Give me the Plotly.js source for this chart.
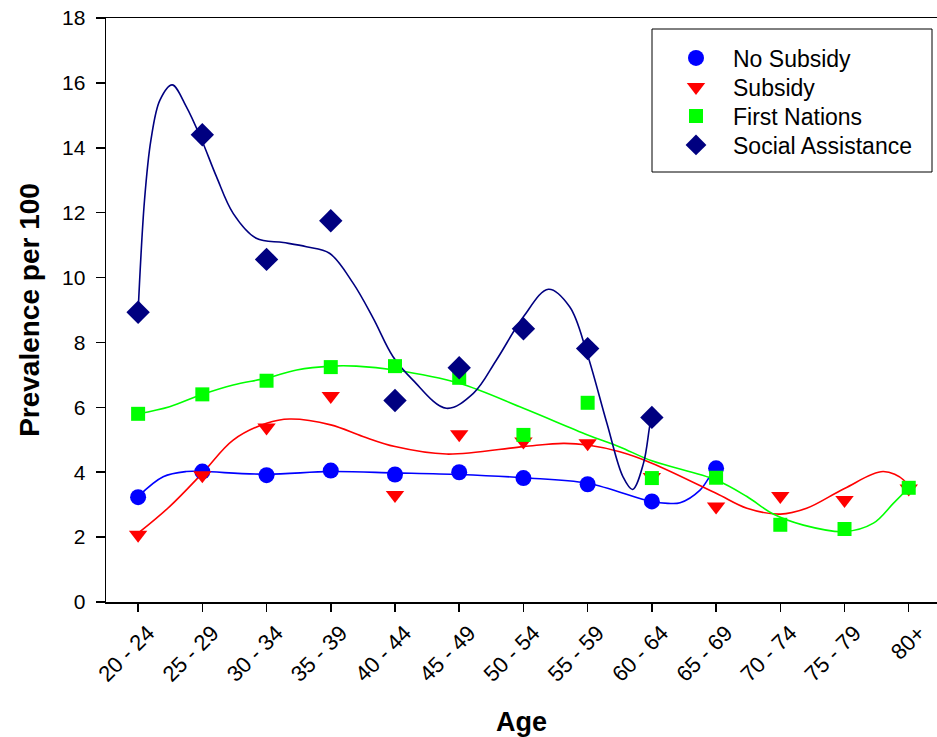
<!DOCTYPE html>
<html>
<head>
<meta charset="utf-8">
<script src="https://cdn.plot.ly/plotly-3.0.1.min.js"></script>
<style>html,body{margin:0;padding:0;background:#fff;}#chart{width:937px;height:737px;}</style>
</head>
<body>
<div id="chart"></div>
<script>
// Categories (age groups)
const ageGroups = ["20 - 24","25 - 29","30 - 34","35 - 39","40 - 44","45 - 49","50 - 54","55 - 59","60 - 64","65 - 69","70 - 74","75 - 79","80+"];

// Observed prevalence per 100 (markers)
const noSubsidy        = [3.23, 4.02, 3.91, 4.05, 3.93, 4.00, 3.82, 3.63, 3.10, 4.12];
const subsidy          = [2.07, 3.91, 5.38, 6.35, 3.30, 5.17, 4.95, 4.89, 3.85, 2.94, 3.27, 3.14, 3.50];
const firstNations     = [5.80, 6.40, 6.82, 7.24, 7.27, 6.91, 5.15, 6.14, 3.82, 3.83, 2.38, 2.25, 3.52];
const socialAssistance = [8.93, 14.40, 10.56, 11.75, 6.21, 7.22, 8.42, 7.81, 5.69];

// Smoothed fit curves (position in age-group index, value)
const noSubsidyCurveX = [0, 0.39, 0.75, 1, 2, 3, 4, 5, 6, 7, 8, 8.25, 8.44, 8.75, 8.9, 9];
const noSubsidyCurveY = [3.25, 3.86, 4.02, 4.02, 3.94, 4.02, 3.98, 3.93, 3.83, 3.66, 3.09, 3.04, 3.06, 3.45, 3.86, 4.12];

const subsidyCurveX = [0, 0.49, 1, 1.48, 2, 2.36, 3, 3.5, 4, 4.8, 6, 6.62, 7, 7.5, 8, 9, 9.48, 10, 10.41, 11, 11.6, 11.92, 12];
const subsidyCurveY = [2.12, 2.94, 3.97, 4.99, 5.51, 5.64, 5.46, 5.10, 4.79, 4.56, 4.79, 4.89, 4.84, 4.63, 4.28, 3.35, 2.89, 2.71, 2.89, 3.50, 4.02, 3.76, 3.45];

const firstNationsCurveX = [0, 0.49, 1, 1.48, 2, 2.47, 3, 3.4, 4, 5, 6, 7, 7.5, 8, 9, 9.48, 9.89, 10.36, 11, 11.45, 11.76, 12];
const firstNationsCurveY = [5.80, 6.02, 6.40, 6.69, 6.90, 7.15, 7.27, 7.27, 7.15, 6.74, 5.97, 5.15, 4.78, 4.35, 3.76, 3.25, 2.71, 2.37, 2.17, 2.43, 3.04, 3.52];

const socialCurveX = [0, 0.1, 0.2, 0.34, 0.53, 0.75, 0.99, 1.22, 1.48, 1.84, 2.26, 2.62, 2.98, 3.35, 3.66, 3.97, 4.28, 4.8, 5.22, 5.58, 6.0, 6.39, 6.72, 6.99, 7.3, 7.55, 7.7, 7.87, 7.97, 8.0];
const socialCurveY = [8.95, 12.39, 14.24, 15.47, 15.94, 15.27, 14.24, 13.11, 11.98, 11.21, 11.08, 10.95, 10.75, 9.82, 8.75, 7.56, 6.84, 5.97, 6.43, 7.46, 8.79, 9.64, 9.10, 7.67, 5.51, 3.86, 3.47, 4.28, 5.46, 5.69];

const idx = arr => arr.map((_, i) => i);

const BLUE = "#0000FF", RED = "#FF0000", GREEN = "#00FF00", NAVY = "#000080";

function curve(x, y, color) {
  return {x: x, y: y, mode: "lines", type: "scatter", showlegend: false, hoverinfo: "skip",
          line: {color: color, width: 1.6, shape: "spline", smoothing: 1}};
}

const traces = [
  curve(noSubsidyCurveX, noSubsidyCurveY, BLUE),
  curve(subsidyCurveX, subsidyCurveY, RED),
  curve(firstNationsCurveX, firstNationsCurveY, GREEN),
  curve(socialCurveX, socialCurveY, NAVY),
  {x: idx(noSubsidy), y: noSubsidy, mode: "markers", type: "scatter", name: "No Subsidy", legend: "legend",
   marker: {symbol: "circle", size: 16, color: BLUE}},
  {x: idx(subsidy), y: subsidy, mode: "markers", type: "scatter", name: "Subsidy", legend: "legend2",
   marker: {symbol: "triangle-down", size: 16, color: RED}},
  {x: idx(firstNations), y: firstNations, mode: "markers", type: "scatter", name: "First Nations", legend: "legend3",
   marker: {symbol: "square", size: 14, color: GREEN}},
  {x: idx(socialAssistance), y: socialAssistance, mode: "markers", type: "scatter", name: "Social Assistance", legend: "legend4",
   marker: {symbol: "diamond", size: 18, color: NAVY}}
];

function legendAt(rowY) {
  return {
    x: (659 - 106) / 831, xanchor: "left",
    y: (602 - rowY) / 584, yanchor: "middle",
    bgcolor: "rgba(0,0,0,0)", borderwidth: 0,
    font: {size: 23, color: "#000", family: "Arial, Liberation Sans, sans-serif"}, itemwidth: 64
  };
}

const layout = {
  width: 937, height: 737,
  margin: {l: 106, r: 0, t: 18, b: 135},
  paper_bgcolor: "#fff", plot_bgcolor: "#fff",
  font: {family: "Arial, Liberation Sans, sans-serif", color: "#000"},
  showlegend: true,
  xaxis: {
    range: [-0.5, 12.44], tickvals: idx(ageGroups), ticktext: ageGroups,
    tickangle: -45, tickfont: {size: 22}, ticklabelshift: 10,
    ticks: "outside", ticklen: 8, tickwidth: 1.5, tickcolor: "#000",
    showline: true, linecolor: "#000", linewidth: 1.5, mirror: true,
    showgrid: false, zeroline: false,
    title: {text: "<b>Age</b>", font: {size: 27}, standoff: 32}
  },
  yaxis: {
    range: [0, 18], dtick: 2, tickfont: {size: 21}, ticksuffix: " ",
    ticks: "outside", ticklen: 9, tickwidth: 1.5, tickcolor: "#000",
    showline: true, linecolor: "#000", linewidth: 1.5,
    showgrid: false, zeroline: false,
    title: {text: "<b>Prevalence per 100</b>", font: {size: 28}, standoff: 14}
  },
  legend: legendAt(58),
  legend2: legendAt(87),
  legend3: legendAt(116),
  legend4: legendAt(145),
  shapes: [{
    type: "rect", xref: "paper", yref: "paper",
    x0: (652 - 106) / 831, x1: (932 - 106) / 831,
    y0: (602 - 172) / 584, y1: (602 - 29) / 584,
    line: {color: "#000", width: 1}, fillcolor: "rgba(0,0,0,0)"
  }]
};

Plotly.newPlot("chart", traces, layout, {displayModeBar: false, staticPlot: true});
</script>
</body>
</html>
